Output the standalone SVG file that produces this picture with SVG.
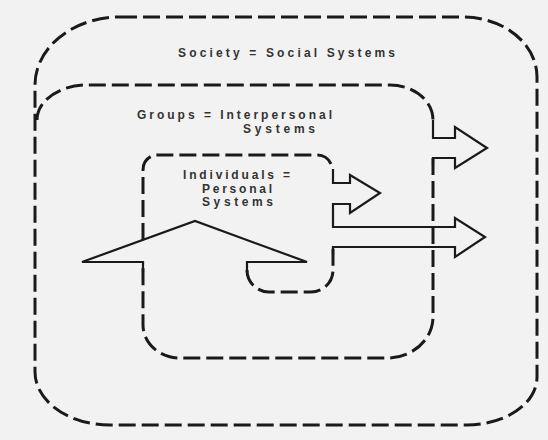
<svg xmlns="http://www.w3.org/2000/svg" width="548" height="440" viewBox="0 0 548 440">
<style>
.dash{fill:none;stroke:#1a1a1a;stroke-width:3;stroke-dasharray:17 6;stroke-linecap:butt}
.solid{fill:none;stroke:#1a1a1a;stroke-width:2.2;stroke-linejoin:miter}
.lbl{font-family:"Liberation Sans",Arial,sans-serif;font-size:12px;font-weight:bold;fill:#333}
</style>
<rect x="0" y="0" width="548" height="440" fill="#f2f2f2"/>
<g id="node-society">
<path class="dash" d="M120,17 H463 A74,60 0 0 1 537,77 V377 A70,48 0 0 1 467,425 H110 A75,53 0 0 1 35,372 V85 A85,68 0 0 1 120,17 Z"/>
<text class="lbl" x="178" y="56.5" textLength="217" lengthAdjust="spacing">Society = Social Systems</text>
</g>
<g id="node-groups">
<path class="dash" d="M37,120 A50,35 0 0 1 87,85 H390 A43,35 0 0 1 433,120"/>
<path class="dash" d="M433,158 V317 A46,41 0 0 1 387,358 H180 A37,33 0 0 1 143,325 V262"/>
<text class="lbl" x="137" y="118.5" textLength="195" lengthAdjust="spacing">Groups = Interpersonal</text>
<text class="lbl" x="243" y="133" textLength="72" lengthAdjust="spacing">Systems</text>
</g>
<g id="node-individuals">
<path class="dash" d="M143,240 V170 A14,15 0 0 1 157,155 H317 A15,14 0 0 1 332,169"/>
<path class="dash" d="M247,270 A22,22 0 0 0 269,292 H311 A22,22 0 0 0 333,270 V247"/>
<text class="lbl" x="183" y="178.5" textLength="107" lengthAdjust="spacing">Individuals =</text>
<text class="lbl" x="202" y="192.5" textLength="70" lengthAdjust="spacing">Personal</text>
<text class="lbl" x="202" y="206" textLength="71" lengthAdjust="spacing">Systems</text>
</g>
<g id="connectors">
<path class="solid" d="M433,120 V138 H455 V127 L487,148 L455,168 V158 H433 V166"/>
<path class="solid" d="M333,169 V183 H350 V175 L380,193 L350,213 V204 H333 V227 H455 V218 L485,237 L455,257 V247 H333 V255"/>
<path class="solid" d="M143,272 V262 H82 L195,221 L307,262 H247 V272"/>
</g>
</svg>
